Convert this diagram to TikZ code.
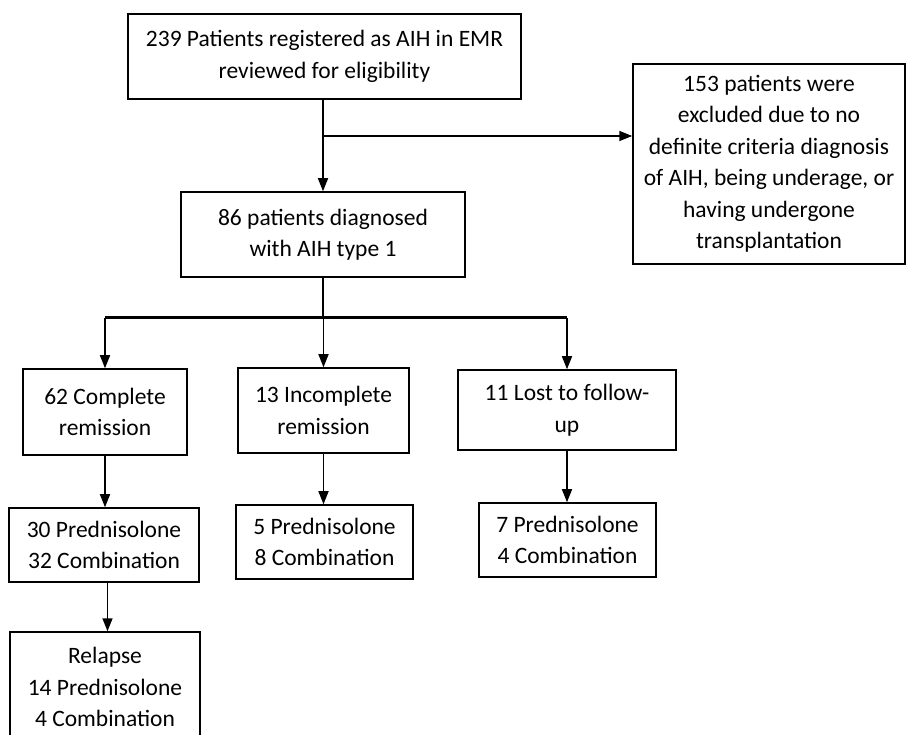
\documentclass[tikz,border=0pt]{standalone}
\usepackage{fontspec}
\setmainfont{Carlito}
\usetikzlibrary{arrows.meta,calc}
\begin{document}
\begin{tikzpicture}[x=1pt,y=1pt,
  box/.style={draw=black,line width=1.5pt,align=center,inner sep=0pt,
    font=\fontsize{23.5}{31.5}\selectfont,text=black},
  arr/.style={line width=1.5pt,-{Triangle[width=10pt,length=13pt]}},
  ln/.style={line width=1.5pt},
  thick line/.style={line width=3pt}]
\useasboundingbox (0,0) rectangle (906,-735);
\clip (0,0) rectangle (906,-735);
\node[box,minimum width=393pt,minimum height=85pt] (top) at (324.5,-56.5)
  {239 Patients registered as AIH in EMR\\reviewed for eligibility};
\node[box,minimum width=272pt,minimum height=200pt] (excl) at (769,-164)
  {153 patients were\\excluded due to no\\definite criteria diagnosis\\of AIH, being underage, or\\having undergone\\transplantation};
\node[box,minimum width=284pt,minimum height=85pt] (diag) at (323,-234.5)
  {86 patients diagnosed\\with AIH type 1};
\node[box,minimum width=164pt,minimum height=86pt] (cr) at (105,-412)
  {62 Complete\\remission};
\node[box,minimum width=171pt,minimum height=85pt] (ir) at (323.5,-410.5)
  {13 Incomplete\\remission};
\node[box,minimum width=218pt,minimum height=80pt] (lf) at (567,-410)
  {11 Lost to follow-\\up};
\node[box,minimum width=190pt,minimum height=74pt] (cr2) at (104,-545)
  {30 Prednisolone\\32 Combination};
\node[box,minimum width=177pt,minimum height=74pt] (ir2) at (324.5,-542)
  {5 Prednisolone\\8 Combination};
\node[box,minimum width=177pt,minimum height=74pt] (lf2) at (567.5,-540)
  {7 Prednisolone\\4 Combination};
\node[box,minimum width=190pt,minimum height=110pt] (rel) at (105,-687)
  {Relapse\\14 Prednisolone\\4 Combination};
\coordinate (h) at (323,-136);
\coordinate (j) at (323,-318);
\draw[arr] (top.south -| h) -- (diag.north -| h);
\draw[arr] (h) -- (excl.west |- h);
\draw[ln] (diag.south -| j) -- (j);
\draw[thick line] (cr.north |- j) -- (lf.north |- j);
\draw[arr] (cr.north |- j) -- (cr.north);
\draw[arr] (ir.north |- j) -- (ir.north);
\draw[arr] (lf.north |- j) -- (lf.north);
\draw[arr] (cr.south) -- (cr2.north -| cr.south);
\draw[arr] (ir.south) -- (ir2.north -| ir.south);
\draw[arr] (lf.south) -- (lf2.north -| lf.south);
\draw[arr] ($(cr2.south)+(3.5,0)$) -- ($(rel.north)+(2.5,0)$);
\end{tikzpicture}
\end{document}
